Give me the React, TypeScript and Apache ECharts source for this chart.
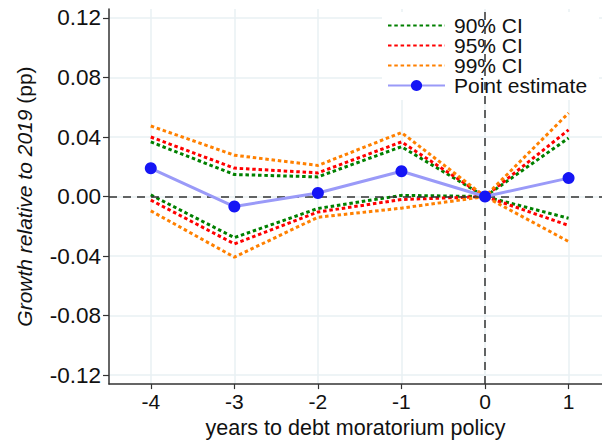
import React, { useEffect, useRef } from "react";
import * as echarts from "echarts";

const xTicks = [-4, -3, -2, -1, 0, 1];
const yTicks = [-0.12, -0.08, -0.04, 0, 0.04, 0.08, 0.12];
const pointEstimate = [0.019, -0.0067, 0.0024, 0.017, 0, 0.0124];
const ci90Upper = [0.0367, 0.0148, 0.0132, 0.0335, 0, 0.0393];
const ci90Lower = [0.0011, -0.0276, -0.008, 0.0008, 0, -0.0146];
const ci95Upper = [0.04, 0.0191, 0.0159, 0.0367, 0, 0.0448];
const ci95Lower = [-0.0024, -0.0318, -0.0104, -0.002, 0, -0.0194];
const ci99Upper = [0.0474, 0.0278, 0.0209, 0.043, 0, 0.0561];
const ci99Lower = [-0.0096, -0.0407, -0.0139, -0.0078, 0, -0.0302];

const FONT = "'Liberation Sans', Arial, sans-serif";
const GREEN = "#008000";
const RED = "#ff0000";
const ORANGE = "#ff8000";
const DOT: number[] = [3.5, 2.8];

const pairs = (vals: number[]) => xTicks.map((x, i) => [x, vals[i]]);

export default function App() {
  const ref = useRef<HTMLDivElement>(null);
  useEffect(() => {
    if (!ref.current) return;
    const chart = echarts.init(ref.current, undefined, { renderer: "svg" });
    const ciSeries = (name: string, vals: number[], color: string) => ({
      name,
      type: "line",
      data: pairs(vals),
      symbol: "none",
      z: 3,
      lineStyle: { color, width: 3, type: DOT },
      itemStyle: { color },
    });
    const hiddenSymbol = { opacity: 0 };
    chart.setOption({
      animation: false,
      backgroundColor: "#ffffff",
      textStyle: { fontFamily: FONT },
      grid: { left: 109, right: 0, top: 9, bottom: 49.5, containLabel: false },
      legend: {
        orient: "vertical",
        left: 382,
        top: 12,
        padding: [3, 12, 4, 5],
        backgroundColor: "#ffffff",
        itemWidth: 57,
        itemHeight: 14,
        itemGap: -1,
        textStyle: {
          fontFamily: FONT,
          fontSize: 21,
          lineHeight: 20,
          color: "#111",
          padding: [0, 0, 0, 4],
        },
        data: [
          { name: "90% CI", itemStyle: hiddenSymbol },
          { name: "95% CI", itemStyle: hiddenSymbol },
          { name: "99% CI", itemStyle: hiddenSymbol },
          { name: "Point estimate" },
        ],
      },
      xAxis: {
        type: "value",
        min: -4.5,
        max: 1.4,
        name: "years to debt moratorium policy",
        nameLocation: "middle",
        nameGap: 24,
        nameTextStyle: { fontFamily: FONT, fontSize: 21.5, color: "#111" },
        axisLine: { show: true, onZero: false, lineStyle: { color: "#333", width: 1.5 } },
        axisTick: { show: true, length: 5, customValues: xTicks, lineStyle: { color: "#333", width: 1.2 } },
        axisLabel: {
          customValues: xTicks,
          fontFamily: FONT,
          fontSize: 21,
          color: "#111",
          margin: 7,
        },
        splitLine: { show: true, lineStyle: { color: "#e9f1f3", width: 1.5 } },
      },
      yAxis: {
        type: "value",
        min: -0.126,
        max: 0.126,
        name: "{i|Growth relative to 2019} {n|(pp)}",
        nameLocation: "middle",
        nameRotate: 90,
        nameGap: 74,
        nameTextStyle: {
          fontFamily: FONT,
          fontSize: 21,
          color: "#111",
          rich: {
            i: { fontStyle: "italic", fontSize: 21, fontFamily: FONT, color: "#111" },
            n: { fontSize: 21, fontFamily: FONT, color: "#111" },
          },
        },
        axisLine: { show: true, onZero: false, lineStyle: { color: "#333", width: 1.5 } },
        axisTick: { show: true, length: 6, customValues: yTicks, lineStyle: { color: "#333", width: 1.2 } },
        axisLabel: {
          customValues: yTicks,
          fontFamily: FONT,
          fontSize: 22.5,
          color: "#111",
          margin: 8,
          formatter: (v: number) => v.toFixed(2),
        },
        splitLine: { show: true, lineStyle: { color: "#e9f1f3", width: 1.5 } },
      },
      series: [
        {
          name: "zero-lines",
          type: "line",
          data: [],
          z: 2,
          silent: true,
          markLine: {
            silent: true,
            symbol: "none",
            label: { show: false },
            lineStyle: { color: "#333", width: 1.5, type: [8, 6] },
            data: [{ xAxis: 0 }, { yAxis: 0 }],
          },
        },
        ciSeries("90% CI", ci90Upper, GREEN),
        ciSeries("95% CI", ci95Upper, RED),
        ciSeries("99% CI", ci99Upper, ORANGE),
        ciSeries("90% CI", ci90Lower, GREEN),
        ciSeries("95% CI", ci95Lower, RED),
        ciSeries("99% CI", ci99Lower, ORANGE),
        {
          name: "Point estimate",
          type: "line",
          data: pairs(pointEstimate),
          z: 5,
          symbol: "circle",
          symbolSize: 12,
          lineStyle: { color: "#9a9af8", width: 3 },
          itemStyle: { color: "#1515f5" },
        },
      ],
    });
    return () => chart.dispose();
  }, []);
  return (
    <div
      ref={ref}
      style={{ position: "absolute", left: 0, top: 0, width: 602, height: 444 }}
    />
  );
}
